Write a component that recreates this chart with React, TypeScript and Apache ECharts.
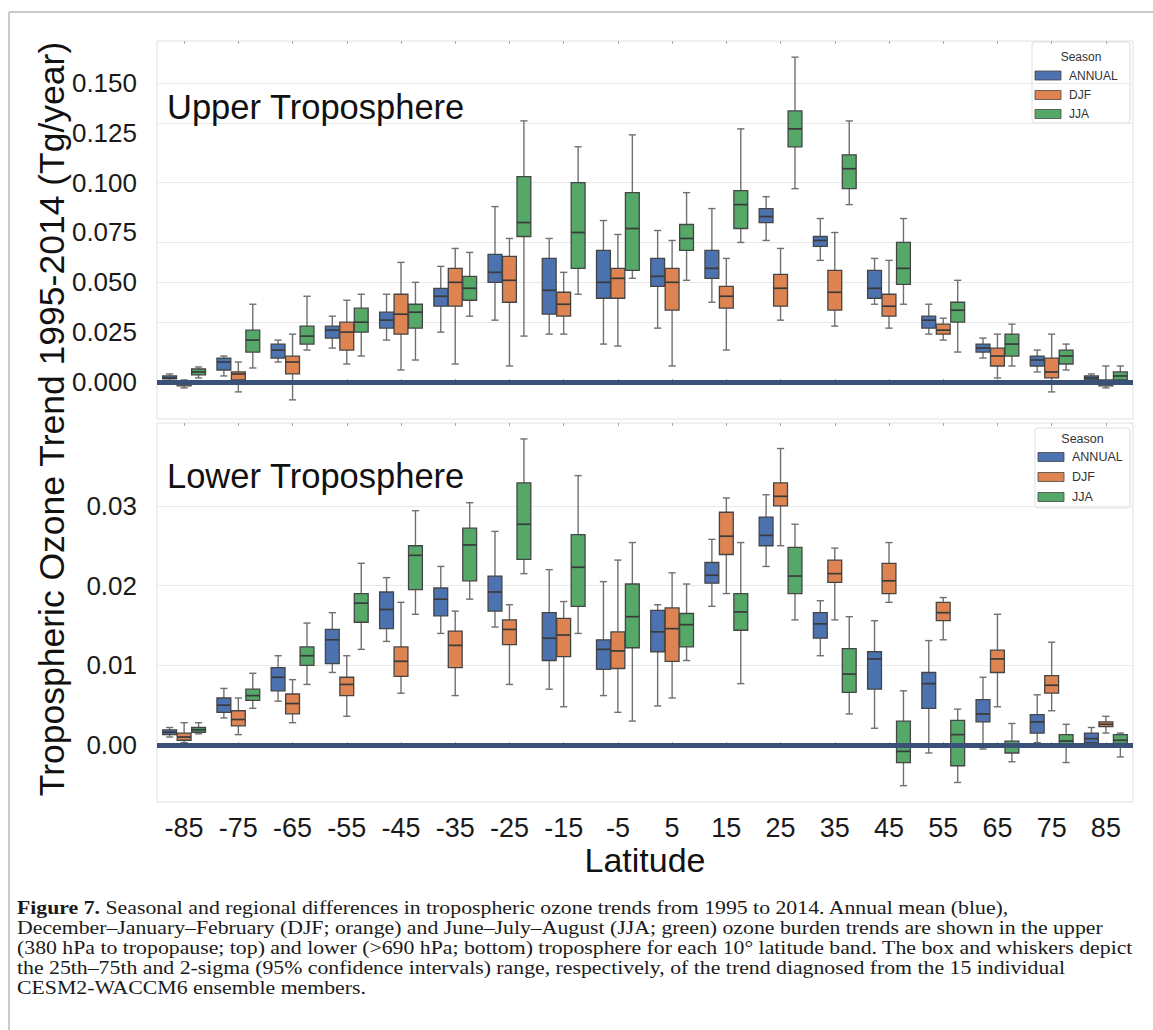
import React, { useEffect, useRef } from 'react';
import * as echarts from 'echarts';

const latitudes = ['-85', '-75', '-65', '-55', '-45', '-35', '-25', '-15', '-5', '5', '15', '25', '35', '45', '55', '65', '75', '85'];
const seasons = ['ANNUAL', 'DJF', 'JJA'];
const seasonColors = ['#4c72b0', '#dd8452', '#55a868'];

// each entry: [whisker low, q1, median, q3, whisker high]
const upperAnnual = [
  [0.0005, 0.0015, 0.002, 0.003, 0.004], [0.003, 0.006, 0.010, 0.012, 0.013], [0.010, 0.012, 0.016, 0.019, 0.021],
  [0.017, 0.022, 0.026, 0.028, 0.033], [0.021, 0.027, 0.031, 0.035, 0.044], [0.025, 0.038, 0.043, 0.047, 0.058],
  [0.031, 0.050, 0.055, 0.064, 0.088], [0.024, 0.034, 0.046, 0.062, 0.072], [0.019, 0.042, 0.050, 0.066, 0.081],
  [0.027, 0.048, 0.053, 0.062, 0.076], [0.040, 0.052, 0.057, 0.066, 0.087], [0.071, 0.080, 0.083, 0.087, 0.093],
  [0.061, 0.068, 0.071, 0.073, 0.082], [0.039, 0.042, 0.047, 0.056, 0.062], [0.024, 0.027, 0.031, 0.033, 0.039],
  [0.012, 0.015, 0.017, 0.019, 0.022], [0.005, 0.008, 0.011, 0.013, 0.016], [0.000, 0.001, 0.002, 0.003, 0.004],
];
const upperDJF = [
  [-0.003, -0.002, -0.001, 0.000, 0.001], [-0.005, 0.001, 0.004, 0.005, 0.010], [-0.009, 0.004, 0.010, 0.013, 0.024],
  [0.009, 0.016, 0.025, 0.030, 0.041], [0.006, 0.024, 0.034, 0.044, 0.060], [0.009, 0.038, 0.050, 0.057, 0.067],
  [0.008, 0.040, 0.051, 0.063, 0.072], [0.024, 0.033, 0.039, 0.045, 0.055], [0.018, 0.042, 0.052, 0.057, 0.074],
  [0.008, 0.036, 0.050, 0.057, 0.071], [0.016, 0.037, 0.043, 0.048, 0.062], [0.031, 0.038, 0.047, 0.054, 0.067],
  [0.028, 0.036, 0.045, 0.056, 0.075], [0.027, 0.033, 0.038, 0.044, 0.061], [0.021, 0.024, 0.026, 0.029, 0.032],
  [0.002, 0.008, 0.013, 0.017, 0.024], [-0.005, 0.002, 0.005, 0.012, 0.024], [-0.003, -0.002, -0.001, 0.001, 0.008],
];
const upperJJA = [
  [0.002, 0.0035, 0.005, 0.0065, 0.0075], [0.007, 0.015, 0.021, 0.026, 0.039], [0.016, 0.019, 0.023, 0.028, 0.043],
  [0.013, 0.025, 0.030, 0.037, 0.044], [0.011, 0.027, 0.035, 0.039, 0.050], [0.033, 0.041, 0.047, 0.053, 0.065],
  [0.023, 0.073, 0.080, 0.103, 0.131], [0.044, 0.057, 0.075, 0.100, 0.118], [0.052, 0.056, 0.077, 0.095, 0.124],
  [0.051, 0.066, 0.072, 0.079, 0.095], [0.070, 0.077, 0.089, 0.096, 0.127], [0.097, 0.118, 0.127, 0.136, 0.163],
  [0.089, 0.097, 0.107, 0.114, 0.131], [0.039, 0.049, 0.057, 0.070, 0.082], [0.015, 0.030, 0.036, 0.040, 0.051],
  [0.008, 0.013, 0.019, 0.024, 0.029], [0.006, 0.009, 0.013, 0.016, 0.019], [-0.001, 0.001, 0.003, 0.005, 0.008],
];
const lowerAnnual = [
  [0.0010, 0.0013, 0.0016, 0.0019, 0.0022], [0.0034, 0.0041, 0.0050, 0.0059, 0.0071], [0.0055, 0.0068, 0.0085, 0.0097, 0.0112],
  [0.0091, 0.0102, 0.0132, 0.0145, 0.0166], [0.0130, 0.0146, 0.0170, 0.0192, 0.0210], [0.0140, 0.0162, 0.0183, 0.0197, 0.0224],
  [0.0148, 0.0168, 0.0192, 0.0212, 0.0268], [0.0070, 0.0106, 0.0134, 0.0166, 0.0220], [0.0062, 0.0095, 0.0120, 0.0132, 0.0205],
  [0.0049, 0.0117, 0.0142, 0.0169, 0.0176], [0.0174, 0.0203, 0.0213, 0.0229, 0.0258], [0.0224, 0.0250, 0.0263, 0.0286, 0.0314],
  [0.0112, 0.0134, 0.0152, 0.0166, 0.0181], [0.0021, 0.0070, 0.0108, 0.0117, 0.0156], [-0.0010, 0.0046, 0.0077, 0.0091, 0.0131],
  [-0.0005, 0.0029, 0.0039, 0.0057, 0.0085], [0.0003, 0.0015, 0.0029, 0.0038, 0.0063], [0.0000, 0.0003, 0.0008, 0.0015, 0.0022],
];
const lowerDJF = [
  [0.0003, 0.0006, 0.0010, 0.0015, 0.0028], [0.0013, 0.0024, 0.0032, 0.0043, 0.0059], [0.0028, 0.0039, 0.0052, 0.0064, 0.0082],
  [0.0036, 0.0062, 0.0076, 0.0085, 0.0112], [0.0065, 0.0086, 0.0105, 0.0123, 0.0179], [0.0062, 0.0097, 0.0125, 0.0143, 0.0168],
  [0.0076, 0.0126, 0.0145, 0.0157, 0.0176], [0.0048, 0.0111, 0.0138, 0.0159, 0.0180], [0.0041, 0.0096, 0.0118, 0.0142, 0.0232],
  [0.0059, 0.0105, 0.0146, 0.0172, 0.0216], [0.0190, 0.0239, 0.0262, 0.0292, 0.0310], [0.0250, 0.0300, 0.0312, 0.0329, 0.0372],
  [0.0157, 0.0204, 0.0215, 0.0232, 0.0247], [0.0179, 0.0190, 0.0206, 0.0228, 0.0254], [0.0132, 0.0156, 0.0166, 0.0179, 0.0185],
  [0.0048, 0.0091, 0.0108, 0.0119, 0.0164], [0.0043, 0.0065, 0.0075, 0.0087, 0.0129], [0.0015, 0.0023, 0.0026, 0.0029, 0.0036],
];
const lowerJJA = [
  [0.0014, 0.0016, 0.0019, 0.0022, 0.0028], [0.0046, 0.0056, 0.0062, 0.0070, 0.0090], [0.0076, 0.0100, 0.0112, 0.0123, 0.0153],
  [0.0120, 0.0154, 0.0178, 0.0190, 0.0228], [0.0164, 0.0195, 0.0238, 0.0250, 0.0294], [0.0183, 0.0206, 0.0251, 0.0272, 0.0304],
  [0.0215, 0.0233, 0.0277, 0.0329, 0.0384], [0.0140, 0.0174, 0.0223, 0.0264, 0.0338], [0.0030, 0.0122, 0.0161, 0.0202, 0.0254],
  [0.0106, 0.0123, 0.0151, 0.0165, 0.0202], [0.0077, 0.0144, 0.0167, 0.0190, 0.0254], [0.0157, 0.0190, 0.0212, 0.0248, 0.0277],
  [0.0039, 0.0066, 0.0089, 0.0121, 0.0161], [-0.0051, -0.0022, -0.0008, 0.0030, 0.0068], [-0.0047, -0.0026, 0.0013, 0.0031, 0.0045],
  [-0.0021, -0.0010, -0.0001, 0.0005, 0.0027], [-0.0022, -0.0002, 0.0005, 0.0013, 0.0026], [-0.0015, 0.0002, 0.0006, 0.0013, 0.0015],
];

const upperTicks = [0, 0.025, 0.05, 0.075, 0.1, 0.125, 0.15];
const lowerTicks = [0, 0.01, 0.02, 0.03];

const panelTitles = ['Upper Troposphere', 'Lower Troposphere'];
const yTitle = 'Tropospheric Ozone Trend 1995-2014 (Tg/year)';
const xTitle = 'Latitude';
const legendTitle = 'Season';

const captionLines = [
  '{b|Figure 7.} Seasonal and regional differences in tropospheric ozone trends from 1995 to 2014. Annual mean (blue),',
  'December–January–February (DJF; orange) and June–July–August (JJA; green) ozone burden trends are shown in the upper',
  '(380 hPa to tropopause; top) and lower (>690 hPa; bottom) troposphere for each 10° latitude band. The box and whiskers depict',
  'the 25th–75th and 2-sigma (95% confidence intervals) range, respectively, of the trend diagnosed from the 15 individual',
  'CESM2-WACCM6 ensemble members.',
];

const SANS = "'Liberation Sans', Arial, sans-serif";
const SERIF = "'Liberation Serif', 'Times New Roman', serif";

function measure(text: string, font: string): number {
  const ctx = document.createElement('canvas').getContext('2d');
  if (!ctx) return 1000;
  ctx.font = font;
  return ctx.measureText(text).width;
}

function makeRender(k: number, color: string) {
  return (params: any, api: any) => {
    const xi = api.value(0);
    const band = api.size([1, 0])[0];
    const w = (band * 0.8) / 3;
    const cx = api.coord([xi, 0])[0] + (k - 1) * w;
    const y = (v: number) => api.coord([xi, v])[1];
    const yMin = y(api.value(1));
    const yQ1 = y(api.value(2));
    const yMed = y(api.value(3));
    const yQ3 = y(api.value(4));
    const yMax = y(api.value(5));
    const half = w / 2 - 0.3;
    const cap = w / 4;
    const wh = { stroke: '#707070', lineWidth: 1.4 };
    return {
      type: 'group',
      children: [
        { type: 'line', shape: { x1: cx, y1: yQ3, x2: cx, y2: yMax }, style: wh },
        { type: 'line', shape: { x1: cx, y1: yQ1, x2: cx, y2: yMin }, style: wh },
        { type: 'line', shape: { x1: cx - cap, y1: yMax, x2: cx + cap, y2: yMax }, style: wh },
        { type: 'line', shape: { x1: cx - cap, y1: yMin, x2: cx + cap, y2: yMin }, style: wh },
        {
          type: 'rect',
          shape: { x: cx - half, y: yQ3, width: half * 2, height: Math.max(yQ1 - yQ3, 1) },
          style: { fill: color, stroke: '#454545', lineWidth: 1.3 },
        },
        { type: 'line', shape: { x1: cx - half, y1: yMed, x2: cx + half, y2: yMed }, style: { stroke: '#3a3a3a', lineWidth: 1.7 } },
      ],
    };
  };
}

function legendGraphic(x: number, y: number, w: number, h: number, titleY: number, itemYs: number[], patchX: number, labelX: number, fs: number) {
  const children: any[] = [
    { type: 'rect', shape: { x, y, width: w, height: h, r: 3 }, style: { fill: 'rgba(255,255,255,0.9)', stroke: '#dedede', lineWidth: 1 } },
    { type: 'text', x: x + w / 2, y: titleY, style: { text: legendTitle, font: `${fs}px ${SANS}`, fill: '#333', align: 'center', verticalAlign: 'middle' } },
  ];
  seasons.forEach((s, i) => {
    children.push({ type: 'rect', shape: { x: patchX, y: itemYs[i] - 4.5, width: 26, height: 9 }, style: { fill: seasonColors[i], stroke: '#444', lineWidth: 0.8 } });
    children.push({ type: 'text', x: labelX, y: itemYs[i], style: { text: s, font: `${fs}px ${SANS}`, fill: '#333', align: 'left', verticalAlign: 'middle' } });
  });
  return { type: 'group', children };
}

function buildOption() {
  const upperSets = [upperAnnual, upperDJF, upperJJA];
  const lowerSets = [lowerAnnual, lowerDJF, lowerJJA];
  const series: any[] = [];
  [upperSets, lowerSets].forEach((sets, p) => {
    const ticks = p === 0 ? upperTicks : lowerTicks;
    sets.forEach((rows, k) => {
      const s: any = {
        type: 'custom',
        name: seasons[k],
        xAxisIndex: p * 2,
        yAxisIndex: p,
        z: 2,
        renderItem: makeRender(k, seasonColors[k]),
        encode: { x: 0, y: [1, 2, 3, 4, 5] },
        data: rows.map((r, i) => [i, ...r]),
      };
      if (k === 0) {
        s.markLine = {
          silent: true, symbol: 'none', z: 1, animation: false,
          label: { show: false },
          lineStyle: { color: '#e9e9e9', width: 1.2, type: 'solid' },
          data: ticks.filter((t) => t !== 0).map((t) => ({ yAxis: t })),
        };
      }
      if (k === 2) {
        s.markLine = {
          silent: true, symbol: 'none', z: 6, animation: false,
          label: { show: false },
          lineStyle: { color: '#3a5177', width: 5, type: 'solid' },
          data: [{ yAxis: 0 }],
        };
      }
      series.push(s);
    });
  });

  const xAxisBase = (gridIndex: number, position: string, labels: boolean) => ({
    type: 'category',
    gridIndex,
    position,
    data: latitudes,
    boundaryGap: true,
    axisLine: { show: false },
    axisTick: { show: true, inside: true, length: 3, alignWithLabel: true, lineStyle: { color: '#aaaaaa' } },
    axisLabel: labels
      ? { show: true, interval: 0, fontSize: 27, lineHeight: 24, color: '#1a1a1a', fontFamily: SANS, margin: 14 }
      : { show: false },
    splitLine: { show: false },
  });

  const capFont = `18px ${SERIF}`;
  const capScale = 1116 / measure(captionLines[2], capFont);
  const capYs = [908, 928, 948, 968, 988];

  const graphic: any[] = [
    { type: 'line', shape: { x1: 9, y1: 12, x2: 1153, y2: 12 }, style: { stroke: '#b9b9b9', lineWidth: 1.5 } },
    { type: 'line', shape: { x1: 9, y1: 12, x2: 9, y2: 1030 }, style: { stroke: '#b9b9b9', lineWidth: 1.5 } },
    {
      type: 'text', x: 52, y: 419, rotation: Math.PI / 2,
      style: { text: yTitle, font: `35.5px ${SANS}`, fill: '#111', align: 'center', verticalAlign: 'middle' },
    },
    { type: 'text', x: 645, y: 860, style: { text: xTitle, font: `34px ${SANS}`, lineHeight: 28, fill: '#111', align: 'center', verticalAlign: 'middle' } },
    { type: 'text', x: 167, y: 107, z: 10, style: { text: panelTitles[0], font: `34.5px ${SANS}`, fill: '#111', align: 'left', verticalAlign: 'middle' } },
    { type: 'text', x: 167, y: 476, z: 10, style: { text: panelTitles[1], font: `34.5px ${SANS}`, fill: '#111', align: 'left', verticalAlign: 'middle' } },
    legendGraphic(1032, 42, 98, 81, 57, [75.5, 95, 114], 1035, 1069, 12),
    legendGraphic(1035, 428, 95, 80, 439, [457, 477, 497], 1038, 1072, 12.5),
  ];
  captionLines.forEach((line, i) => {
    graphic.push({
      type: 'text', x: 17, y: capYs[i], scaleX: capScale,
      style: {
        text: line, fontSize: 18, fontFamily: SERIF, fill: '#1a1a1a', align: 'left', verticalAlign: 'middle',
        rich: { b: { fontSize: 18, fontFamily: SERIF, fontWeight: 'bold', fill: '#1a1a1a' } },
      },
    });
  });

  return {
    animation: false,
    backgroundColor: '#ffffff',
    grid: [
      { left: 157, top: 41, width: 976, height: 378, show: true, borderColor: '#e0e0e0', borderWidth: 1, backgroundColor: '#ffffff' },
      { left: 157, top: 423, width: 976, height: 379, show: true, borderColor: '#e0e0e0', borderWidth: 1, backgroundColor: '#ffffff' },
    ],
    xAxis: [
      xAxisBase(0, 'bottom', false),
      xAxisBase(0, 'top', false),
      xAxisBase(1, 'bottom', true),
      xAxisBase(1, 'top', false),
    ],
    yAxis: [
      {
        type: 'value', gridIndex: 0, min: -0.0186, max: 0.1711,
        axisLine: { show: false }, axisTick: { show: false }, splitLine: { show: false },
        axisLabel: { customValues: upperTicks, formatter: (v: number) => v.toFixed(3), fontSize: 26, color: '#1a1a1a', fontFamily: SANS, margin: 20 },
      },
      {
        type: 'value', gridIndex: 1, min: -0.00715, max: 0.0404,
        axisLine: { show: false }, axisTick: { show: false }, splitLine: { show: false },
        axisLabel: { customValues: lowerTicks, formatter: (v: number) => v.toFixed(2), fontSize: 26, color: '#1a1a1a', fontFamily: SANS, margin: 20 },
      },
    ],
    series,
    graphic,
  };
}

export default function App() {
  const ref = useRef<HTMLDivElement>(null);
  useEffect(() => {
    if (!ref.current) return;
    const chart = echarts.init(ref.current, null, { renderer: 'svg' });
    chart.setOption(buildOption() as any);
    return () => chart.dispose();
  }, []);
  return <div ref={ref} style={{ position: 'fixed', left: 0, top: 0, width: 1153, height: 1030, background: '#fff' }} />;
}
